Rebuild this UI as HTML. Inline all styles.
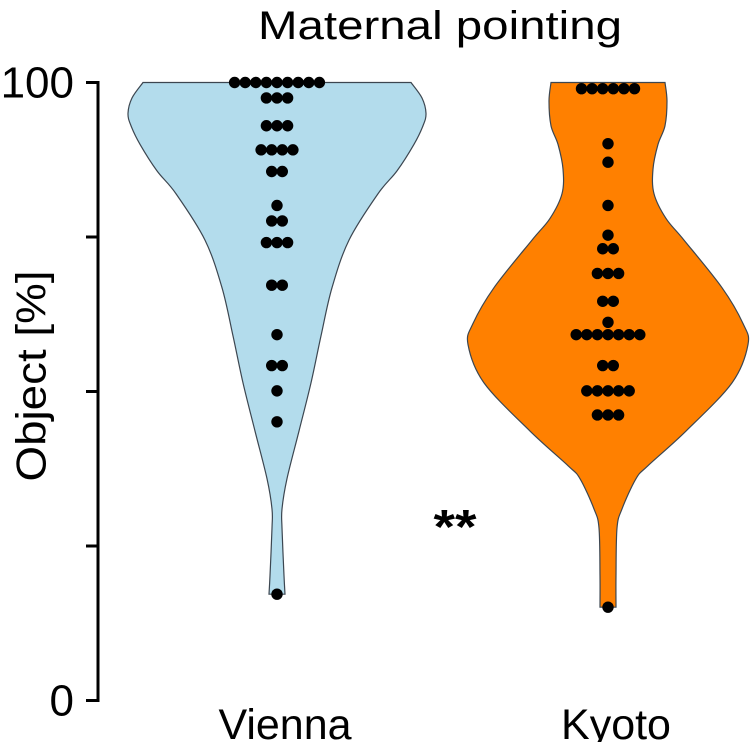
<!DOCTYPE html>
<html><head><meta charset="utf-8"><style>
html,body{margin:0;padding:0;background:#fff;}
svg{display:block;font-family:"Liberation Sans",sans-serif;}
</style></head><body>
<svg id="chart" width="750" height="742" viewBox="0 0 750 742">
<text x="440" y="39" font-size="40" text-anchor="middle" textLength="364" lengthAdjust="spacingAndGlyphs">Maternal pointing</text>
<g id="violins"></g>
<g id="dots"></g>
<g id="axis"></g>
<text x="31" y="376" font-size="42" text-anchor="middle" transform="rotate(-90 31 376)" dominant-baseline="central" textLength="211" lengthAdjust="spacingAndGlyphs">Object [%]</text>
<text x="455" y="543" font-size="48" font-weight="bold" text-anchor="middle" textLength="43" lengthAdjust="spacingAndGlyphs">**</text>
</svg>
<script>
const categories = ["Vienna", "Kyoto"];
const yTicks = [0, 25, 50, 75, 100];
const yTickLabels = ["0", "", "", "", "100"];
// dot rows: [value, count]
const viennaRows = [[100,9],[97.5,3],[93,3],[89.1,4],[85.6,2],[80.1,1],[77.6,2],[74.1,3],[67.2,2],[59.2,1],[54.2,2],[50.1,1],[45.1,1],[17.2,1]];
const kyotoRows = [[99,6],[90.1,1],[87.1,1],[80.1,1],[75.3,1],[73.1,2],[69.1,3],[64.6,2],[61.2,1],[59.2,7],[54.2,2],[50.1,5],[46.2,3],[15.1,1]];
// violin density profiles: [value, half-width]
const viennaDensity = [[100,134],[97.5,145],[95,149],[93,146],[90,137],[85.7,120],[82,101],[74.5,72],[66.8,55],[59,44],[51.4,34],[43.6,22],[35.9,10],[31,5],[27.9,5],[20.2,7],[17.2,8]];
const kyotoDensity = [[100,57],[97,59],[93,57],[90,50],[86,45],[82,46],[78,58],[74.5,76],[66.8,114],[61,135],[57.6,140],[51.4,124],[43.6,78],[38,40],[35.9,28],[31,14],[27.9,9],[20.2,8],[15.1,8]];

const NS="http://www.w3.org/2000/svg";
const y0px=700.5, y100px=82.5, axisX=98;
const centers=[277,608];
function y(v){return y0px-(v/100)*(y0px-y100px);}
function x(i){return centers[i];}
function mk(tag,attrs,parent){const e=document.createElementNS(NS,tag);for(const k in attrs)e.setAttribute(k,attrs[k]);parent.appendChild(e);return e;}

const ax=document.getElementById('axis');
const al=mk('line',{x1:axisX,x2:axisX,y1:y(100),y2:y(0),stroke:'#000','stroke-width':3},ax);


yTicks.forEach((t,i)=>{
  const tk=mk('line',{x1:axisX-12,x2:axisX+1.5,y1:y(t),y2:y(t),stroke:'#000','stroke-width':3},ax);
  
  
  if(yTickLabels[i]){
    const tx=mk('text',{x:74,y:y(t)+15,'font-size':44,'text-anchor':'end'},ax);
    tx.textContent=yTickLabels[i];
    
    
  }
});
categories.forEach((c,i)=>{
  const tx=mk('text',{x:x(i)+8,y:739,'font-size':43,'text-anchor':'middle'},ax);
  tx.textContent=c;
  
  
});

function smooth(pts){
  let d='';
  for(let i=0;i<pts.length-1;i++){
    const p0=pts[Math.max(0,i-1)],p1=pts[i],p2=pts[i+1],p3=pts[Math.min(pts.length-1,i+2)];
    const c1=[p1[0]+(p2[0]-p0[0])/6,p1[1]+(p2[1]-p0[1])/6];
    const c2=[p2[0]-(p3[0]-p1[0])/6,p2[1]-(p3[1]-p1[1])/6];
    d+=` C${c1[0]},${c1[1]} ${c2[0]},${c2[1]} ${p2[0]},${p2[1]}`;
  }
  return d;
}
function violin(dens,i,fill,name){
  const cx=x(i);
  const right=dens.map(p=>[cx+p[1],y(p[0])]);
  const left=dens.slice().reverse().map(p=>[cx-p[1],y(p[0])]);
  let d=`M${right[0][0]},${right[0][1]}`+smooth(right)+` L${left[0][0]},${left[0][1]}`+smooth(left)+' Z';
  const p=mk('path',{d:d,fill:fill,stroke:'#3c4650','stroke-width':1.2},document.getElementById('violins'));
  
  
}
violin(viennaDensity,0,'#b3dcec','violin-vienna');
violin(kyotoDensity,1,'#ff8000','violin-kyoto');

const dg=document.getElementById('dots');
function dots(rows,i,name){
  rows.forEach(r=>{
    const n=r[1];
    for(let k=0;k<n;k++){
      const cx=x(i)+(k-(n-1)/2)*10.6;
      const c=mk('circle',{cx:cx,cy:y(r[0]),r:5.7,fill:'#000'},dg);
      
      
    }
  });
}
dots(viennaRows,0,'vienna');
dots(kyotoRows,1,'kyoto');
</script>
</body></html>
